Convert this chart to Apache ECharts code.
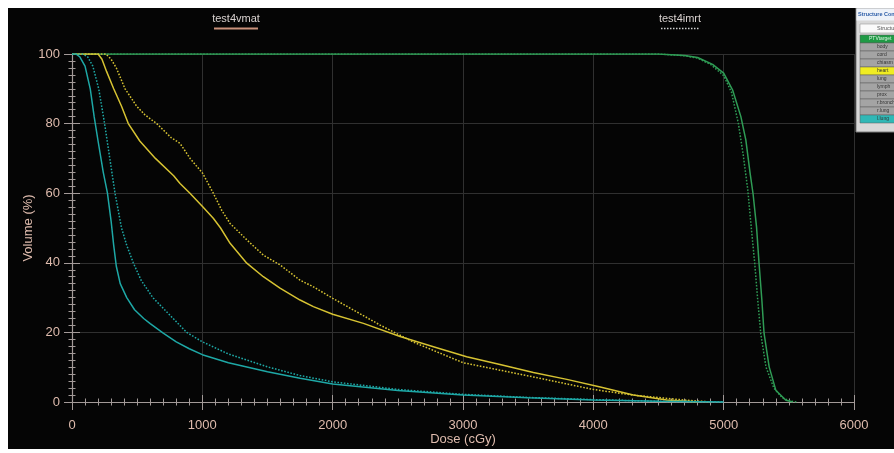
<!DOCTYPE html>
<html><head><meta charset="utf-8">
<script src="https://cdn.jsdelivr.net/npm/echarts@6/dist/echarts.min.js"></script>
<style>
html,body{margin:0;padding:0;background:#fff;width:894px;height:453px;overflow:hidden}
#c{position:absolute;left:8px;top:8px;width:886px;height:441px;background:#050505}
</style></head><body><div id="c"></div>
<script>
// ---- data (dose cGy, volume %) ----
const planNames = ['test4vmat', 'test4imrt'];
const xAxisName = 'Dose (cGy)';
const yAxisName = 'Volume (%)';
const panelTitle = 'Structure Contours';
const panelButton = 'Structure';
const structureLabels = ['PTVtarget','body','cord','chiasm','heart','lung','lymph','prox','r.bronch','r.lung','l.lung'];
const structureKinds  = ['green','grey','grey','grey','yellow','grey','grey','grey','grey','grey','cyan'];

const vmatCyan = [[0,100],[30,100],[60,99.2],[100,96.5],[140,90],[170,82],[200,75],[240,66],[272,60],[300,52],[320,45],[340,39],[370,34],[420,30],[480,26.5],[550,24],[600,22.5],[700,19.8],[800,17.3],[900,15.3],[1000,13.6],[1200,11.3],[1500,8.7],[1750,6.8],[2000,5.2],[2500,3.3],[3000,2.0],[3500,1.2],[4000,0.6],[4500,0.2],[5000,0]];
const imrtCyan = [[0,100],[80,100],[120,99.2],[160,96.5],[205,90],[250,80],[290,70],[330,60],[380,50],[420,45],[470,40],[530,35],[620,30],[750,25],[880,20],[1000,17.3],[1200,13.8],[1500,10.1],[1750,7.6],[2000,5.8],[2500,3.6],[3000,2.2],[3500,1.3],[4000,0.7],[4500,0.2],[5000,0]];
const vmatYellow = [[0,100],[200,100],[230,98.5],[265,95],[320,90],[380,85],[432,80],[520,75],[640,70],[780,65],[829,62.8],[905,60],[1003,56.1],[1084,52.8],[1140,50],[1213,45.6],[1341,39.9],[1468,36],[1596,32.7],[1750,29.3],[1852,27.4],[2000,25.2],[2236,22.6],[2517,18.8],[2773,15.9],[3028,13.0],[3284,10.8],[3540,8.5],[3797,6.5],[4053,4.3],[4307,2.0],[4563,0.6],[4800,0]];
const imrtYellow = [[0,100],[260,100],[300,98.5],[340,96],[407,90],[496,85],[560,82.5],[650,80],[760,76],[829,74.3],[906,70],[1003,65.7],[1084,60],[1150,55],[1213,51.3],[1341,46.6],[1468,42.2],[1596,39.4],[1750,35],[1852,33.1],[2000,29.8],[2364,22.1],[2620,17.2],[3000,11.3],[3540,7.2],[4000,3.6],[4300,2.0],[4690,0.6],[4900,0]];
const vmatGreen = [[0,100],[4500,100],[4700,99.6],[4800,99],[4915,97],[5000,94.5],[5068,89.7],[5132,82],[5170,75.3],[5203,65.7],[5226,59.7],[5252,50.4],[5272,39.6],[5293,29.3],[5310,19.7],[5349,10.1],[5400,3.4],[5477,0.5],[5530,0]];
const imrtGreen = [[0,100],[4500,100],[4700,99.5],[4800,98.8],[4900,97],[5000,93.8],[5060,89],[5113,80],[5150,71],[5185,61],[5212,50],[5238,40],[5262,29],[5285,19.5],[5325,10],[5385,4],[5450,1.2],[5520,0.2],[5560,0]];

// ---- styles ----
const COL = {cyan:'#1ea8a6', yellow:'#d6c232', green:'#2f9c55'};
const ROWCOL = {green:'#1f9a45', grey:'#a4a4a4', yellow:'#f0ec22', cyan:'#30b8b6'};
const txt = '#dfbcae';
const axisCol = '#a39a98';
const font = '"Liberation Sans", Arial, sans-serif';

function mk(name, data, color, dotted) {
  return {
    type:'line', name, data, showSymbol:false, symbol:'none',
    smooth:false, animation:false,
    lineStyle:{color, width:1.5, type: dotted ? [1.6,1.6] : 'solid'},
    itemStyle:{color}
  };
}

const xCommon = {min:0, max:6000, interval:1000};
const yCommon = {min:0, max:100, interval:20};
const plain = v => String(v);

const graphics = [];
// legend-like headers
graphics.push({type:'text', x:228, y:11, style:{text:planNames[0], fill:'#d9d2d0', font:'11px '+font, textAlign:'center', textVerticalAlign:'middle'}});
graphics.push({type:'line', shape:{x1:206, y1:20.5, x2:250, y2:20.5}, style:{stroke:'#c9917b', lineWidth:2}});
graphics.push({type:'text', x:672, y:11, style:{text:planNames[1], fill:'#d9d2d0', font:'11px '+font, textAlign:'center', textVerticalAlign:'middle'}});
graphics.push({type:'line', shape:{x1:653, y1:20.5, x2:692, y2:20.5}, style:{stroke:'#cfcfcf', lineWidth:1.5, lineDash:[1.5,1.5]}});
// structure panel
graphics.push({type:'rect', shape:{x:848, y:0, width:50, height:124}, style:{fill:'#d8d8d8', stroke:'#7d7d7d', lineWidth:1}});
graphics.push({type:'rect', shape:{x:848.5, y:0.5, width:50, height:12}, style:{fill:'#eef2f8'}});
graphics.push({type:'text', x:850, y:6, style:{text:panelTitle, fill:'#2b5ca8', font:'bold 5.5px '+font, textVerticalAlign:'middle'}});
graphics.push({type:'rect', shape:{x:852, y:16, width:50, height:9}, style:{fill:'#fafafa', stroke:'#9a9a9a', lineWidth:0.6}});
graphics.push({type:'text', x:869, y:20.5, style:{text:panelButton, fill:'#555', font:'5.5px '+font, textVerticalAlign:'middle'}});
structureLabels.forEach((lab, i) => {
  const k = structureKinds[i];
  graphics.push({type:'rect', shape:{x:852, y:27+8*i, width:50, height:8}, style:{fill:ROWCOL[k], stroke:'#5a5a5a', lineWidth:0.5}});
  graphics.push({type:'text', x: i===0 ? 861 : 869, y:31+8*i, style:{text:lab, fill: k==='green' ? '#dff5e4' : '#333', font:'5px '+font, textVerticalAlign:'middle'}});
});

const chart = echarts.init(document.getElementById('c'), null, {renderer:'canvas'});
chart.setOption({
  backgroundColor:'#050505',
  animation:false,
  grid:{left:64, right:40, top:46, bottom:47, containLabel:false, outerBoundsMode:'none'},
  xAxis:[
    Object.assign({type:'value', position:'bottom',
      name:xAxisName, nameLocation:'middle', nameGap:31, nameMoveOverlap:false,
      nameTextStyle:{color:txt, fontSize:13, fontFamily:font},
      axisLine:{show:true, onZero:false, lineStyle:{color:axisCol, width:1.2}},
      axisTick:{show:true, inside:false, length:8, lineStyle:{color:axisCol, width:1}},
      minorTick:{show:true, splitNumber:10, length:3.5, lineStyle:{color:axisCol, width:1}},
      axisLabel:{color:txt, fontSize:13, fontFamily:font, margin:17, formatter:plain},
      splitLine:{show:true, lineStyle:{color:'#303030', width:1}},
      minorSplitLine:{show:false}}, xCommon),
    Object.assign({type:'value', position:'bottom',
      axisLine:{show:false, onZero:false},
      axisTick:{show:true, inside:true, length:7, lineStyle:{color:axisCol, width:1}},
      minorTick:{show:true, splitNumber:10, length:3.5, lineStyle:{color:axisCol, width:1}},
      axisLabel:{show:false}, splitLine:{show:false}}, xCommon)
  ],
  yAxis:[
    Object.assign({type:'value', position:'left',
      name:yAxisName, nameLocation:'middle', nameGap:37, nameRotate:90, nameMoveOverlap:false,
      nameTextStyle:{color:txt, fontSize:13, fontFamily:font},
      axisLine:{show:true, onZero:false, lineStyle:{color:axisCol, width:1.2}},
      axisTick:{show:true, inside:false, length:8, lineStyle:{color:axisCol, width:1}},
      minorTick:{show:true, splitNumber:10, length:3.5, lineStyle:{color:axisCol, width:1}},
      axisLabel:{color:txt, fontSize:13, fontFamily:font, margin:12, formatter:plain},
      splitLine:{show:true, lineStyle:{color:'#303030', width:1}},
      minorSplitLine:{show:false}}, yCommon),
    Object.assign({type:'value', position:'left',
      axisLine:{show:false, onZero:false},
      axisTick:{show:true, inside:true, length:8, lineStyle:{color:axisCol, width:1}},
      minorTick:{show:true, splitNumber:10, length:3.5, lineStyle:{color:axisCol, width:1}},
      axisLabel:{show:false}, splitLine:{show:false}}, yCommon)
  ],
  series:[
    mk(planNames[0]+' green', vmatGreen, COL.green, false),
    mk(planNames[1]+' green', imrtGreen, COL.green, true),
    mk(planNames[0]+' yellow', vmatYellow, COL.yellow, false),
    mk(planNames[1]+' yellow', imrtYellow, COL.yellow, true),
    mk(planNames[0]+' cyan', vmatCyan, COL.cyan, false),
    mk(planNames[1]+' cyan', imrtCyan, COL.cyan, true)
  ],
  graphic:graphics
});
</script></body></html>
